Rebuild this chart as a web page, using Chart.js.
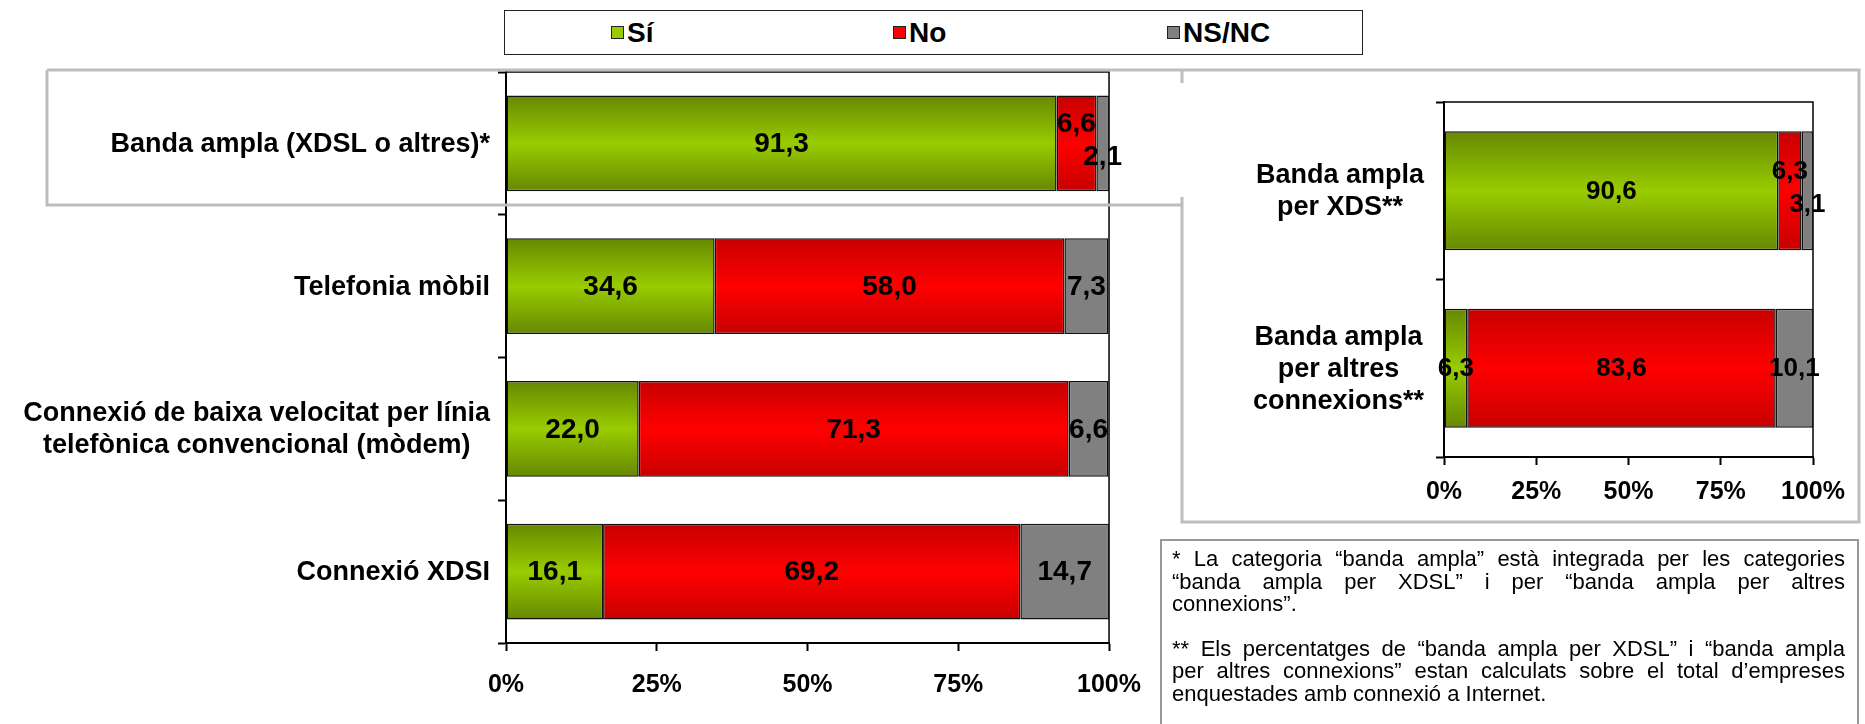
<!DOCTYPE html>
<html>
<head>
<meta charset="utf-8">
<script src="https://cdn.jsdelivr.net/npm/chart.js@4.4.1/dist/chart.umd.min.js"></script>
<style>
html, body { margin: 0; padding: 0; background: #fff; }
body { width: 1865px; height: 724px; position: relative; overflow: hidden; font-family: 'Liberation Sans', Arial, sans-serif; }
canvas { position: absolute; top: 0; }
#leftChart { left: 0; }
#rightChart { left: 1190px; }
#legend { position: absolute; left: 504px; top: 10px; width: 859px; height: 45px; border: 1.5px solid #222; box-sizing: border-box; background: #fff; }
#legend .item { position: absolute; top: 0; height: 100%; display: flex; align-items: center; font-weight: bold; font-size: 28px; }
#legend .box { width: 11px; height: 11px; border: 1.5px solid #222; margin-right: 3px; }
#frame { position: absolute; left: 0; top: 0; pointer-events: none; }
#note { position: absolute; left: 1160px; top: 539px; width: 699px; height: 200px; border: 2px solid #999; box-sizing: border-box; padding: 7px 12px 0 10px; font-size: 22px; line-height: 22.5px; color: #000; }
#note .l { text-align: justify; text-align-last: justify; white-space: nowrap; }
#note .last { text-align: left; }
#note .gap { height: 22px; }
</style>
</head>
<body>
<canvas id="leftChart" width="1160" height="724"></canvas>
<canvas id="rightChart" width="670" height="530"></canvas>
<div id="legend"></div>
<svg id="frame" width="1865" height="724">
  <path d="M47,70 H1859 V522 H1182 V197 M47,70 V205 H1182 M1182,70 V83" fill="none" stroke="#bdbdbd" stroke-width="3"/>
</svg>
<div id="note">
  <div class="l">* La categoria “banda ampla” està integrada per les categories</div>
  <div class="l">“banda ampla per XDSL” i per “banda ampla per altres</div>
  <div class="last">connexions”.</div>
  <div class="gap"></div>
  <div class="l">** Els percentatges de “banda ampla per XDSL” i “banda ampla</div>
  <div class="l">per altres connexions” estan calculats sobre el total d’empreses</div>
  <div class="last">enquestades amb connexió a Internet.</div>
</div>
<script>
// series
const seriesNames = ['Sí', 'No', 'NS/NC']

// main chart
const leftCategories = [
    'Banda ampla (XDSL o altres)*',
    'Telefonia mòbil',
    ['Connexió de baixa velocitat per línia', 'telefònica convencional (mòdem)'],
    'Connexió XDSI'
]
const leftSi = [91.3, 34.6, 22.0, 16.1]
const leftNo = [6.6, 58.0, 71.3, 69.2]
const leftNs = [2.1, 7.3, 6.6, 14.7]

// side chart (broadband split)
const rightCategories = [
    ['Banda ampla', 'per XDS**'],
    ['Banda ampla', 'per altres', 'connexions**']
]
const rightSi = [90.6, 6.3]
const rightNo = [6.3, 83.6]
const rightNs = [3.1, 10.1]

const xTicks = [0, 25, 50, 75, 100]

const FONT = '"Liberation Sans", Arial, sans-serif'
const BAR_PCT = 0.67
// edge / middle colours of each series
const seriesColors = [
    ['#668800', '#99cc00'],
    ['#c80000', '#ff0000'],
    ['#808080', '#808080']
]

Chart.defaults.font.family = FONT
Chart.defaults.color = '#000'

const fmt = v => v.toFixed(1).replace('.', ',')

function barGradient(stops) {
    return function (ctx) {
        const chart = ctx.chart
        const yScale = chart.scales.y
        if (ctx.type !== 'data' || !yScale || !chart.chartArea) return stops[1]
        const center = yScale.getPixelForValue(ctx.dataIndex)
        const half = yScale.height / chart.data.labels.length * BAR_PCT / 2
        const g = chart.ctx.createLinearGradient(0, center - half, 0, center + half)
        g.addColorStop(0, stops[0])
        g.addColorStop(0.5, stops[1])
        g.addColorStop(1, stops[0])
        return g
    }
}

// value labels drawn in the middle of each segment, small neighbours staggered
const valueLabels = {
    id: 'valueLabels',
    afterDatasetsDraw(chart, args, opts) {
        const ctx = chart.ctx
        const ds = chart.data.datasets
        ctx.save()
        ctx.font = 'bold ' + opts.size + 'px ' + FONT
        ctx.fillStyle = '#000'
        ctx.textAlign = 'center'
        ctx.textBaseline = 'middle'
        chart.data.labels.forEach((_, i) => {
            ds.forEach((d, j) => {
                const el = chart.getDatasetMeta(j).data[i]
                const v = d.data[i]
                const prev = j > 0 ? ds[j - 1].data[i] : null
                const next = j < ds.length - 1 ? ds[j + 1].data[i] : null
                let dy = 0
                if (v < 8 && next !== null && next < 8) dy = -20
                else if (v < 8 && prev !== null && prev < 8) dy = 13
                ctx.fillText(fmt(v), (el.x + el.base) / 2, el.y + dy + 1)
            })
        })
        ctx.restore()
    }
}

// category labels: block right aligned to the axis, lines centred in the block
const blockLabels = {
    id: 'blockLabels',
    afterDraw(chart, args, opts) {
        const y = chart.scales.y
        const ctx = chart.ctx
        ctx.save()
        ctx.font = 'bold ' + opts.size + 'px ' + FONT
        ctx.fillStyle = '#000'
        ctx.textAlign = 'center'
        ctx.textBaseline = 'middle'
        chart.data.labels.forEach((lab, i) => {
            const lines = [].concat(lab)
            const w = Math.max(...lines.map(l => ctx.measureText(l).width))
            const cx = y.right - opts.gap - w / 2
            const cy = y.getPixelForTick(i)
            lines.forEach((l, k) => {
                ctx.fillText(l, cx, cy + (k - (lines.length - 1) / 2) * opts.lineHeight + 1)
            })
        })
        ctx.restore()
    }
}

const plotFrame = {
    id: 'plotFrame',
    beforeDatasetsDraw(chart) {
        const { ctx, chartArea: a } = chart
        ctx.save()
        ctx.strokeStyle = '#000'
        ctx.lineWidth = 1.5
        ctx.beginPath()
        ctx.moveTo(a.left, a.top)
        ctx.lineTo(a.right, a.top)
        ctx.lineTo(a.right, a.bottom)
        ctx.stroke()
        ctx.restore()
    }
}

function makeChart(id, labels, si, no, ns, dims) {
    const values = [si, no, ns]
    return new Chart(document.getElementById(id), {
        type: 'bar',
        data: {
            labels: labels,
            datasets: values.map((vals, k) => ({
                label: seriesNames[k],
                data: vals,
                backgroundColor: barGradient(seriesColors[k]),
                borderColor: '#111',
                borderWidth: 1.5,
                borderSkipped: false,
                barPercentage: BAR_PCT,
                categoryPercentage: 1
            }))
        },
        options: {
            indexAxis: 'y',
            responsive: false,
            animation: false,
            devicePixelRatio: 1,
            layout: { padding: { top: dims.top, right: dims.right, left: 0, bottom: 0 } },
            plugins: {
                legend: { display: false },
                tooltip: { enabled: false },
                blockLabels: { gap: dims.gap, lineHeight: 32, size: dims.catFont },
                valueLabels: { size: dims.valFont }
            },
            scales: {
                x: {
                    stacked: true,
                    min: 0,
                    max: 100,
                    afterBuildTicks: s => { s.ticks = xTicks.map(v => ({ value: v })) },
                    ticks: {
                        callback: v => v + '%',
                        color: '#000',
                        font: { size: dims.tickFont, weight: 'bold' },
                        padding: dims.xPad,
                        maxRotation: 0
                    },
                    grid: { drawOnChartArea: false, tickLength: 8, tickColor: '#000', tickWidth: 2 },
                    border: { color: '#000', width: 2 },
                    afterFit: s => { s.height = dims.xHeight }
                },
                y: {
                    stacked: true,
                    ticks: { display: false },
                    grid: { drawOnChartArea: false, offset: true, tickLength: 8, tickColor: '#000', tickWidth: 2 },
                    border: { color: '#000', width: 2 },
                    afterFit: s => { s.width = dims.yWidth }
                }
            }
        },
        plugins: [plotFrame, valueLabels, blockLabels]
    })
}

makeChart('leftChart', leftCategories, leftSi, leftNo, leftNs,
    { top: 72, right: 48, yWidth: 506, xHeight: 81, xPad: 19, gap: 16, catFont: 27, valFont: 28, tickFont: 25 })
makeChart('rightChart', rightCategories, rightSi, rightNo, rightNs,
    { top: 102, right: 47, yWidth: 254, xHeight: 73, xPad: 12, gap: 20, catFont: 27, valFont: 26, tickFont: 25 })

// legend
const legendLeft = [106, 388, 662]
const legend = document.getElementById('legend')
seriesNames.forEach((name, k) => {
    const item = document.createElement('div')
    item.className = 'item'
    item.style.left = legendLeft[k] + 'px'
    const box = document.createElement('span')
    box.className = 'box'
    box.style.background = seriesColors[k][1]
    item.appendChild(box)
    item.appendChild(document.createTextNode(name))
    legend.appendChild(item)
})
</script>
</body>
</html>
